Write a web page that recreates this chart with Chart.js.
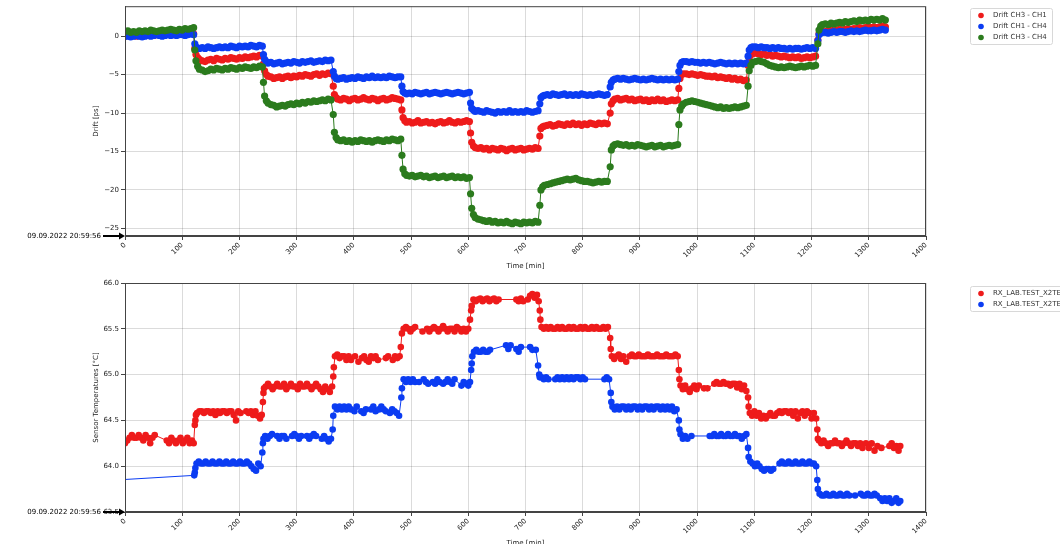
<!DOCTYPE html>
<html>
<head>
<meta charset="utf-8">
<script src="https://cdn.jsdelivr.net/npm/chart.js@4/dist/chart.umd.min.js"></script>
<style>
html, body { margin: 0; padding: 0; background: #fff; overflow: hidden; }
#wrap { position: relative; width: 1060px; height: 544px; overflow: hidden; }
canvas { position: absolute; left: 0; }
#driftChart { top: 0; }
#tempChart { top: 272px; }
</style>
</head>
<body>
<div id="wrap">
<canvas id="driftChart" width="1060" height="272"></canvas>
<canvas id="tempChart" width="1060" height="277"></canvas>
</div>
<script>
// start of the measurement, shown at the origin of both plots
const startStamp = '09.09.2022 20:59:56';

const xTicks = [0, 100, 200, 300, 400, 500, 600, 700, 800, 900, 1000, 1100, 1200, 1300, 1400];
const driftTicks = [-25, -20, -15, -10, -5, 0];
const tempTicks = [63.5, 64.0, 64.5, 65.0, 65.5, 66.0];

const driftLabels = ['Drift CH3 - CH1', 'Drift CH1 - CH4', 'Drift CH3 - CH4'];
const tempLabels = ['RX_LAB.TEST_X2TEMP_1', 'RX_LAB.TEST_X2TEMP_2'];

// time [min] for the drift measurements
const driftTime = [
    0, 5, 10, 15, 20, 25, 30, 35, 40, 45, 50, 55, 60, 65, 70, 75, 80, 85, 90, 95, 100, 105, 110, 115, 120,
    122, 124, 127, 130, 135, 140, 145, 150, 155, 160, 165, 170, 175, 180, 185, 190, 195, 200, 205, 210, 215, 220, 225, 230, 235, 240,
    242, 244, 247, 250, 255, 260, 265, 270, 275, 280, 285, 290, 295, 300, 305, 310, 315, 320, 325, 330, 335, 340, 345, 350, 355, 360,
    364, 366, 369, 372, 377, 382, 387, 392, 397, 402, 407, 412, 417, 422, 427, 432, 437, 442, 447, 452, 457, 462, 467, 472, 477, 482,
    484, 486, 489, 492, 497, 502, 507, 512, 517, 522, 527, 532, 537, 542, 547, 552, 557, 562, 567, 572, 577, 582, 587, 592, 597, 602,
    604, 606, 609, 612, 617, 622, 627, 632, 637, 642, 647, 652, 657, 662, 667, 672, 677, 682, 687, 692, 697, 702, 707, 712, 717, 722,
    725, 727, 730, 733, 738, 743, 748, 753, 758, 763, 768, 773, 778, 783, 788, 793, 798, 803, 808, 813, 818, 823, 828, 833, 838, 843,
    848, 850, 853, 856, 861, 866, 871, 876, 881, 886, 891, 896, 901, 906, 911, 916, 921, 926, 931, 936, 941, 946, 951, 956, 961, 966,
    968, 970, 973, 976, 981, 986, 991, 996, 1001, 1006, 1011, 1016, 1021, 1026, 1031, 1036, 1041, 1046, 1051, 1056, 1061, 1066, 1071, 1076, 1081, 1086,
    1089, 1091, 1094, 1097, 1102, 1107, 1112, 1117, 1122, 1127, 1132, 1137, 1142, 1147, 1152, 1157, 1162, 1167, 1172, 1177, 1182, 1187, 1192, 1197, 1202, 1207,
    1211, 1213, 1216, 1219, 1224, 1229, 1234, 1239, 1244, 1249, 1254, 1259, 1264, 1269, 1274, 1279, 1284, 1289, 1294, 1299, 1304, 1309, 1314, 1319, 1324, 1329
];

// drift [ps]
const driftCh3Ch1 = [
    0.0, 0.1, 0.2, 0.1, 0.0, 0.2, 0.1, 0.2, 0.3, 0.2, 0.1, 0.2, 0.3, 0.2, 0.3, 0.4, 0.3, 0.2, 0.3, 0.4, 0.3, 0.4, 0.5, 0.4, 0.3,
    -1.6, -2.4, -2.8, -3.0, -3.2, -3.3, -3.1, -3.0, -3.2, -2.9, -3.0, -3.1, -2.9, -3.0, -2.8, -2.9, -3.0, -2.8, -2.9, -2.7, -2.8, -2.7, -2.6, -2.7, -2.5, -2.6,
    -3.6, -4.5, -5.0, -5.2, -5.3, -5.5, -5.4, -5.3, -5.5, -5.3, -5.2, -5.4, -5.2, -5.3, -5.1, -5.2, -5.0, -5.1, -5.2, -5.0, -4.9, -5.1, -4.9, -5.0, -4.8, -4.9,
    -6.5, -7.6, -8.0, -8.2, -8.3, -8.1, -8.2, -8.4, -8.2, -8.1, -8.3, -8.2, -8.0, -8.2, -8.3, -8.1, -8.2, -8.4, -8.2, -8.1, -8.3, -8.2, -8.0, -8.1, -8.2, -8.3,
    -9.6, -10.6, -11.0, -11.2, -11.1, -11.3, -11.2, -11.0, -11.3, -11.2, -11.1, -11.3, -11.2, -11.4, -11.2, -11.1, -11.3, -11.2, -11.0, -11.2, -11.3, -11.1, -11.2, -11.1, -11.0, -11.1,
    -12.6, -13.8, -14.3, -14.5, -14.6, -14.5, -14.7, -14.6, -14.8, -14.6, -14.7, -14.8, -14.6, -14.7, -14.9, -14.7, -14.6, -14.8, -14.7, -14.6, -14.8, -14.7, -14.6, -14.7, -14.5, -14.6,
    -13.0, -12.0, -11.8, -11.7, -11.6, -11.5, -11.7, -11.6, -11.4, -11.5, -11.6, -11.4, -11.5, -11.3, -11.5, -11.4, -11.6, -11.4, -11.5, -11.3, -11.4, -11.5, -11.3, -11.4, -11.3, -11.4,
    -10.0, -8.8, -8.4, -8.2, -8.1, -8.3, -8.2, -8.1, -8.3, -8.2, -8.4, -8.3, -8.2, -8.4, -8.3, -8.5, -8.3, -8.4, -8.2, -8.4, -8.3, -8.5, -8.4, -8.3, -8.4, -8.3,
    -6.8, -5.5, -5.0, -4.9, -4.9, -5.0, -4.9, -5.0, -5.1, -5.0, -5.1, -5.2, -5.2, -5.3, -5.2, -5.4, -5.3, -5.4, -5.5, -5.4, -5.6, -5.5, -5.7, -5.6, -5.8, -5.7,
    -3.8, -2.8, -2.4, -2.3, -2.2, -2.3, -2.4, -2.3, -2.5, -2.4, -2.6, -2.5, -2.6, -2.7, -2.6, -2.7, -2.8, -2.7, -2.8, -2.7, -2.9, -2.8, -2.7, -2.8, -2.7, -2.6,
    -0.5, 0.3, 0.5, 0.6, 0.6, 0.7, 0.8, 0.7, 0.8, 0.9, 0.8, 0.9, 1.0, 0.9, 1.0, 1.0, 1.1, 1.0, 1.1, 1.2, 1.1, 1.2, 1.1, 1.2, 1.3, 1.2
];
const driftCh1Ch4 = [
    0.0, 0.0, -0.1, 0.0, 0.1, 0.0, -0.1, 0.0, 0.1, 0.0, 0.1, 0.2, 0.1, 0.0, 0.1, 0.2, 0.1, 0.2, 0.1, 0.2, 0.2, 0.1, 0.2, 0.3, 0.2,
    -1.0, -1.4, -1.6, -1.6, -1.5, -1.6, -1.4, -1.5, -1.6, -1.5, -1.4, -1.5, -1.4, -1.5, -1.3, -1.4, -1.5, -1.3, -1.4, -1.3, -1.4, -1.2, -1.3, -1.4, -1.2, -1.3,
    -2.4, -3.0, -3.3, -3.5, -3.4, -3.6, -3.5, -3.4, -3.6, -3.5, -3.4, -3.5, -3.3, -3.4, -3.5, -3.3, -3.4, -3.3, -3.2, -3.4, -3.3, -3.2, -3.3, -3.1, -3.2, -3.1,
    -4.6, -5.2, -5.5, -5.6, -5.5, -5.4, -5.6, -5.5, -5.4, -5.5, -5.3, -5.4, -5.5, -5.3, -5.4, -5.2, -5.4, -5.3, -5.4, -5.3, -5.4, -5.2, -5.3, -5.4, -5.3, -5.3,
    -6.5, -7.2, -7.4, -7.5, -7.4, -7.5, -7.3, -7.4, -7.5, -7.4, -7.3, -7.5, -7.4, -7.3, -7.4, -7.5, -7.4, -7.3, -7.4, -7.5, -7.4, -7.3, -7.4, -7.5, -7.4, -7.3,
    -8.7, -9.4, -9.6, -9.8, -9.7, -9.8, -9.9, -9.7, -9.8, -9.9, -10.0, -9.8, -9.9, -9.8, -9.9, -9.7, -9.9, -9.8, -9.9, -9.8, -9.9, -9.7, -9.8, -9.9, -9.8, -9.7,
    -8.8, -8.0, -7.8, -7.7, -7.6, -7.7, -7.5, -7.6, -7.7, -7.6, -7.5, -7.7, -7.6, -7.7, -7.6, -7.7, -7.5, -7.6, -7.7, -7.6, -7.7, -7.6, -7.5, -7.6, -7.7, -7.6,
    -6.6, -6.0, -5.7, -5.6, -5.5, -5.6, -5.5, -5.6, -5.7, -5.6, -5.5, -5.6, -5.7, -5.6, -5.7, -5.6, -5.5, -5.6, -5.7, -5.6, -5.7, -5.6, -5.7, -5.6, -5.7, -5.6,
    -4.6, -3.8, -3.4, -3.3, -3.3, -3.4, -3.3, -3.4, -3.4, -3.5, -3.4, -3.5, -3.4, -3.5, -3.6, -3.5, -3.4, -3.5, -3.6, -3.5, -3.6, -3.5, -3.6, -3.5, -3.6, -3.5,
    -2.6, -1.8, -1.5, -1.4, -1.4, -1.5, -1.4, -1.5, -1.5, -1.6, -1.5, -1.6, -1.5, -1.6, -1.6, -1.7, -1.6, -1.7, -1.6, -1.6, -1.7, -1.6, -1.5, -1.6, -1.5, -1.6,
    -0.6, 0.2, 0.4, 0.5, 0.5, 0.4, 0.5, 0.6, 0.5, 0.6, 0.6, 0.5, 0.6, 0.7, 0.6, 0.7, 0.6, 0.7, 0.8, 0.7, 0.7, 0.8, 0.7, 0.8, 0.9, 0.8
];
const driftCh3Ch4 = [
    0.6, 0.7, 0.5, 0.6, 0.5, 0.7, 0.6, 0.7, 0.6, 0.8, 0.7, 0.6, 0.7, 0.8, 0.7, 0.8, 0.9, 0.8, 0.7, 0.9, 0.8, 1.0, 0.9, 1.0, 1.1,
    -1.8, -3.2, -3.9, -4.3, -4.4, -4.6, -4.5, -4.3, -4.4, -4.2, -4.3, -4.4, -4.2, -4.3, -4.1, -4.2, -4.3, -4.1, -4.2, -4.0, -4.1, -4.2, -4.0, -4.1, -3.9, -4.0,
    -6.0, -7.8, -8.4, -8.7, -8.9, -9.0, -9.2, -9.1, -9.0, -9.1, -8.9, -8.8, -8.9, -8.7, -8.8, -8.6, -8.7, -8.5, -8.6, -8.4, -8.5, -8.4, -8.3, -8.4, -8.2, -8.3,
    -10.2, -12.5, -13.2, -13.5, -13.6, -13.5, -13.7, -13.6, -13.8, -13.6, -13.7, -13.5, -13.6, -13.7, -13.6, -13.8, -13.6, -13.5, -13.6, -13.7, -13.5, -13.6, -13.4, -13.5, -13.6, -13.4,
    -15.5, -17.3, -17.9, -18.1, -18.2, -18.1, -18.3, -18.2, -18.1, -18.3, -18.2, -18.4, -18.3, -18.2, -18.4, -18.3, -18.2, -18.4, -18.3, -18.2, -18.4, -18.3, -18.4, -18.3, -18.5, -18.4,
    -20.5, -22.4, -23.2, -23.6, -23.8, -23.9, -24.0, -24.1, -24.0, -24.2, -24.1, -24.3, -24.2, -24.3, -24.1, -24.3, -24.4, -24.2, -24.3, -24.4, -24.2, -24.3, -24.2, -24.3, -24.1, -24.2,
    -22.0, -20.0, -19.6, -19.4, -19.3, -19.2, -19.1, -19.0, -18.9, -18.8, -18.7, -18.6, -18.7, -18.6, -18.5, -18.7, -18.8, -18.9, -18.9, -19.0, -19.1, -19.0, -18.9, -19.0, -18.9, -18.9,
    -17.0, -14.8, -14.3, -14.1, -14.0, -14.1, -14.2, -14.1, -14.3, -14.2, -14.3, -14.1, -14.2, -14.3, -14.4, -14.3, -14.2, -14.4, -14.3, -14.2, -14.4, -14.3, -14.2, -14.3, -14.2, -14.1,
    -11.5, -9.6, -9.1, -8.8, -8.6, -8.5, -8.4, -8.5, -8.6, -8.7, -8.8, -8.9, -9.0, -9.1, -9.2, -9.3, -9.2, -9.4, -9.3, -9.4, -9.3, -9.2, -9.3, -9.2, -9.1, -9.0,
    -6.5, -4.5, -3.8, -3.4, -3.3, -3.2, -3.3, -3.4, -3.6, -3.8, -3.9, -4.0, -4.1, -4.0, -4.1, -4.0, -3.9, -4.0, -4.1, -4.0, -3.9, -4.0, -3.9, -3.8, -3.9, -3.8,
    -1.0, 0.8, 1.3, 1.5, 1.6, 1.5, 1.7, 1.6, 1.7, 1.8, 1.7, 1.9, 1.8, 1.9, 2.0, 1.9, 2.1, 2.0, 2.1, 2.0, 2.2, 2.1, 2.2, 2.1, 2.3, 2.1
];

// sensor 1: time [min] and temperature [°C]
const tempTime1 = [
    0, 4, 8, 12, 16, 20, 24, 28, 32, 36, 40, 44, 48, 52,
    73, 77, 81, 85, 89, 93, 97, 101, 105, 109, 113, 117, 120,
    122, 123, 124,
    126, 130, 134, 138, 142, 146, 150, 154, 158, 162, 166, 170, 174, 178, 182, 186, 190, 194, 198, 202, 212, 216, 220, 224, 228, 232, 236, 239,
    241, 242, 243,
    246, 250, 254, 258, 262, 266, 270, 274, 278, 282, 286, 290, 294, 298, 302, 306, 310, 314, 318, 322, 326, 330, 334, 338, 342, 346, 350, 354, 358, 362,
    364, 365,
    367, 371, 375, 379, 383, 387, 391, 395, 402, 408, 414, 418, 422, 426, 430, 434, 438, 442, 456, 460, 468, 472, 476, 480,
    482, 484,
    487, 491, 495, 499, 503, 507, 520, 528, 532, 536, 540, 544, 548, 552, 556, 560, 564, 568, 572, 576, 580, 584, 588, 592, 596, 600,
    603, 605, 606,
    609, 613, 617, 621, 625, 629, 633, 637, 641, 645, 649, 653, 684, 688, 692, 696, 704, 708, 712, 716, 720, 723,
    725, 726,
    728, 732, 736, 740, 744, 748, 752, 756, 760, 764, 768, 772, 776, 780, 784, 788, 792, 796, 800, 804, 808, 812, 816, 820, 824, 828, 832, 836, 840, 844,
    848, 849,
    851, 855, 859, 863, 867, 871, 876, 882, 886, 890, 894, 898, 902, 906, 910, 914, 918, 922, 926, 930, 934, 938, 942, 946, 950, 954, 958, 962, 966,
    968, 969,
    971, 975, 979, 983, 987, 991, 995, 999, 1003, 1012, 1018, 1030, 1034, 1038, 1042, 1046, 1050, 1054, 1058, 1062, 1066, 1070, 1074, 1078, 1082, 1086,
    1089, 1090,
    1092, 1096, 1100, 1104, 1108, 1112, 1116, 1120, 1124, 1128, 1132, 1136, 1140, 1144, 1148, 1152, 1156, 1160, 1164, 1168, 1172, 1176, 1180, 1184, 1188, 1192, 1196, 1200, 1204, 1208,
    1210, 1211,
    1213, 1217, 1221, 1225, 1229, 1233, 1237, 1241, 1245, 1249, 1253, 1257, 1261, 1265, 1269, 1273, 1277, 1281, 1285, 1289, 1295, 1300, 1305, 1310, 1315, 1322, 1336, 1340, 1344, 1348, 1352, 1355
];
const temp1 = [
    64.25, 64.28, 64.31, 64.34, 64.31, 64.31, 64.34, 64.31, 64.28, 64.34, 64.31, 64.25, 64.31, 64.34,
    64.28, 64.25, 64.31, 64.28, 64.25, 64.28, 64.31, 64.25, 64.28, 64.31, 64.25, 64.28, 64.25,
    64.45, 64.5, 64.56,
    64.58, 64.6, 64.6, 64.58, 64.6, 64.6, 64.58, 64.6, 64.56, 64.6, 64.58, 64.6, 64.6, 64.58, 64.6, 64.6, 64.56, 64.5, 64.6, 64.58, 64.6, 64.58, 64.6, 64.56, 64.6, 64.55, 64.52, 64.56,
    64.7, 64.8, 64.85,
    64.87, 64.9, 64.87, 64.84, 64.87, 64.9, 64.87, 64.87, 64.9, 64.84, 64.87, 64.9, 64.87, 64.87, 64.84, 64.9, 64.87, 64.87, 64.9, 64.87, 64.84, 64.87, 64.9, 64.87, 64.84, 64.81, 64.87, 64.84, 64.81, 64.87,
    64.98, 65.08,
    65.2, 65.22, 65.18, 65.2, 65.2, 65.16, 65.2, 65.16, 65.2, 65.14, 65.18, 65.2, 65.16, 65.14, 65.2, 65.18, 65.2, 65.16, 65.18, 65.2, 65.16, 65.2, 65.18, 65.2,
    65.3, 65.45,
    65.5, 65.52, 65.5, 65.47, 65.5, 65.52, 65.47, 65.5, 65.47, 65.5, 65.52, 65.5, 65.47, 65.5, 65.53, 65.5, 65.47, 65.5, 65.5, 65.47, 65.52, 65.5, 65.47, 65.5, 65.47, 65.5,
    65.6, 65.7, 65.75,
    65.82, 65.8, 65.82, 65.83, 65.8, 65.82, 65.83, 65.8, 65.82, 65.83, 65.8, 65.82, 65.82, 65.8, 65.83, 65.8, 65.82, 65.86, 65.88, 65.84, 65.87, 65.8,
    65.7, 65.6,
    65.52, 65.5, 65.52, 65.5, 65.52, 65.5, 65.5, 65.52, 65.5, 65.52, 65.5, 65.5, 65.52, 65.5, 65.52, 65.5, 65.5, 65.52, 65.5, 65.52, 65.5, 65.5, 65.52, 65.5, 65.52, 65.5, 65.5, 65.52, 65.5, 65.52,
    65.4, 65.28,
    65.2, 65.17, 65.2, 65.22, 65.17, 65.2, 65.14, 65.2, 65.22, 65.2, 65.2, 65.22, 65.2, 65.2, 65.2, 65.22, 65.2, 65.2, 65.2, 65.22, 65.2, 65.2, 65.2, 65.22, 65.2, 65.2, 65.2, 65.22, 65.2,
    65.05, 64.95,
    64.88, 64.84, 64.88, 64.84, 64.81, 64.85, 64.88, 64.84, 64.88, 64.85, 64.85, 64.9, 64.92, 64.9, 64.9, 64.92, 64.9, 64.9, 64.88, 64.9, 64.9, 64.86, 64.9, 64.84, 64.88, 64.82,
    64.75, 64.65,
    64.58, 64.55, 64.6, 64.55, 64.58, 64.52, 64.55, 64.52, 64.55, 64.58, 64.55, 64.55, 64.58, 64.6, 64.58, 64.6, 64.6, 64.58, 64.6, 64.55, 64.6, 64.52, 64.58, 64.6, 64.55, 64.6, 64.58, 64.52, 64.58, 64.52,
    64.4, 64.3,
    64.28, 64.25, 64.28, 64.25, 64.22, 64.25, 64.25, 64.28, 64.25, 64.25, 64.22, 64.25, 64.28, 64.25, 64.22, 64.25, 64.25, 64.22, 64.25, 64.2, 64.25, 64.2, 64.25, 64.17, 64.22, 64.2, 64.22, 64.25, 64.2, 64.22, 64.17, 64.22
];

// sensor 2: time [min] and temperature [°C]
const tempTime2 = [
    0, 121, 122, 123,
    125, 129, 133, 137, 141, 145, 149, 153, 157, 161, 165, 169, 173, 177, 181, 185, 189, 193, 197, 201, 205, 209, 213, 217, 221, 225, 229, 233, 237,
    240, 241, 242,
    245, 249, 253, 257, 266, 270, 274, 278, 282, 292, 296, 300, 304, 308, 318, 322, 326, 330, 334, 344, 348, 352, 356, 360,
    363, 364,
    367, 371, 375, 379, 383, 387, 391, 395, 401, 405, 413, 417, 421, 430, 434, 438, 444, 448, 452, 456, 463, 467, 471, 475, 479,
    483, 484,
    487, 491, 495, 499, 503, 507, 514, 522, 526, 530, 538, 542, 546, 550, 556, 560, 564, 568, 572, 576, 588, 592, 596, 600, 603,
    605, 606, 607,
    610, 614, 618, 622, 626, 630, 634, 638, 666, 670, 674, 684, 688, 692, 708, 712, 718,
    722, 724, 725,
    728, 732, 736, 740, 752, 756, 760, 764, 768, 772, 776, 780, 784, 788, 792, 796, 800, 804, 838, 842, 846,
    849, 850,
    852, 856, 860, 864, 868, 872, 876, 880, 884, 888, 892, 896, 900, 904, 908, 912, 916, 920, 924, 928, 932, 936, 940, 944, 948, 952, 956, 960, 964,
    968, 969,
    971, 975, 979, 983, 990, 1022, 1026, 1030, 1034, 1038, 1042, 1046, 1050, 1054, 1058, 1062, 1066, 1070, 1074, 1078, 1082, 1086,
    1089, 1090,
    1093, 1097, 1101, 1105, 1109, 1113, 1117, 1121, 1125, 1129, 1133, 1144, 1148, 1152, 1156, 1160, 1164, 1168, 1172, 1176, 1180, 1184, 1188, 1192, 1196, 1200, 1204, 1208,
    1210, 1211,
    1214, 1218, 1222, 1226, 1230, 1234, 1238, 1242, 1246, 1250, 1254, 1258, 1262, 1266, 1276, 1286, 1290, 1294, 1298, 1302, 1306, 1310, 1314, 1320, 1324, 1328, 1332, 1336, 1340, 1344, 1348, 1352, 1355
];
const temp2 = [
    63.855, 63.9, 63.93, 63.98,
    64.03, 64.05, 64.03, 64.03, 64.05, 64.03, 64.03, 64.05, 64.03, 64.03, 64.05, 64.03, 64.03, 64.05, 64.03, 64.03, 64.05, 64.03, 64.03, 64.05, 64.03, 64.03, 64.05, 64.03, 64.0, 63.97, 63.95, 64.03, 64.0,
    64.15, 64.25, 64.3,
    64.33, 64.3, 64.33, 64.35, 64.33, 64.3, 64.33, 64.33, 64.3, 64.33, 64.35, 64.33, 64.3, 64.33, 64.33, 64.3, 64.33, 64.35, 64.33, 64.3, 64.33, 64.3, 64.27, 64.3,
    64.4, 64.55,
    64.65, 64.62, 64.65, 64.62, 64.65, 64.62, 64.65, 64.62, 64.6, 64.65, 64.6, 64.58, 64.62, 64.62, 64.65, 64.6, 64.62, 64.65, 64.62, 64.6, 64.58, 64.62, 64.6, 64.58, 64.55,
    64.75, 64.85,
    64.95, 64.92, 64.95, 64.92, 64.95, 64.92, 64.92, 64.95, 64.92, 64.9, 64.92, 64.9, 64.95, 64.92, 64.9, 64.92, 64.95, 64.92, 64.9, 64.95, 64.88, 64.92, 64.9, 64.88, 64.92,
    65.05, 65.12, 65.2,
    65.25, 65.27, 65.25, 65.25, 65.27, 65.25, 65.25, 65.27, 65.32, 65.28, 65.32, 65.28, 65.25, 65.3, 65.3, 65.27, 65.27,
    65.1, 65.0, 64.97,
    64.97, 64.95, 64.97, 64.95, 64.95, 64.97, 64.95, 64.97, 64.95, 64.97, 64.95, 64.97, 64.95, 64.97, 64.97, 64.95, 64.97, 64.95, 64.95, 64.97, 64.95,
    64.8, 64.7,
    64.65, 64.62, 64.65, 64.62, 64.65, 64.65, 64.62, 64.65, 64.62, 64.65, 64.65, 64.62, 64.65, 64.62, 64.65, 64.65, 64.62, 64.65, 64.62, 64.65, 64.65, 64.62, 64.65, 64.62, 64.65, 64.62, 64.65, 64.6, 64.62,
    64.5, 64.4,
    64.35, 64.3, 64.33, 64.3, 64.33, 64.33, 64.33, 64.35, 64.33, 64.33, 64.35, 64.33, 64.33, 64.35, 64.33, 64.33, 64.35, 64.33, 64.33, 64.3, 64.33, 64.35,
    64.2, 64.1,
    64.05, 64.03, 64.0, 64.03, 64.0, 63.97, 63.95, 63.97, 63.97, 63.95, 63.97, 64.03, 64.05, 64.03, 64.03, 64.05, 64.03, 64.03, 64.05, 64.03, 64.03, 64.05, 64.03, 64.03, 64.05, 64.03, 64.03, 64.0,
    63.85, 63.75,
    63.7, 63.68, 63.68, 63.7, 63.68, 63.68, 63.7, 63.68, 63.68, 63.7, 63.68, 63.68, 63.7, 63.68, 63.68, 63.7, 63.68, 63.68, 63.7, 63.68, 63.68, 63.7, 63.68, 63.65, 63.62, 63.65, 63.62, 63.65, 63.6, 63.62, 63.65, 63.6, 63.62
];

const RED = '#ee1b1b';
const BLUE = '#0b3cf2';
const GREEN = '#2b7b1d';
const FONT = { family: '"DejaVu Sans", sans-serif', size: 7 };

function toPoints(xs, ys) {
    return xs.map((x, i) => ({ x: x, y: ys[i] }));
}

function minus(v) {
    return String(v).replace('-', '\u2212');
}

// matplotlib style box around the plot + annotation of the start time
const framePlugin = {
    id: 'frame',
    afterDraw(chart) {
        const { ctx, chartArea } = chart;
        const y = chartArea.bottom;
        ctx.save();
        ctx.strokeStyle = '#444';
        ctx.lineWidth = 1;
        ctx.strokeRect(chartArea.left + 0.5, chartArea.top + 0.5, chartArea.width - 1, chartArea.height - 1);

        ctx.font = '7px "DejaVu Sans"';
        ctx.fillStyle = '#000';
        ctx.textAlign = 'right';
        ctx.textBaseline = 'middle';
        ctx.fillText(startStamp, 101, y);
        ctx.strokeStyle = '#000';
        ctx.lineWidth = 2;
        ctx.beginPath();
        ctx.moveTo(103, y);
        ctx.lineTo(chartArea.left - 4, y);
        ctx.stroke();
        ctx.beginPath();
        ctx.moveTo(chartArea.left, y);
        ctx.lineTo(chartArea.left - 6, y - 3.5);
        ctx.lineTo(chartArea.left - 6, y + 3.5);
        ctx.closePath();
        ctx.fill();
        ctx.restore();
    }
};

// legend box placed right of the plot
const boxLegend = {
    id: 'boxLegend',
    afterDraw(chart, args, opts) {
        const { ctx } = chart;
        const sets = chart.data.datasets;
        const rowH = 11;
        const h = sets.length * rowH + 3;
        ctx.save();
        ctx.fillStyle = 'rgba(255,255,255,0.8)';
        ctx.strokeStyle = '#d8d8d8';
        ctx.lineWidth = 1;
        ctx.beginPath();
        ctx.roundRect(opts.x + 0.5, opts.y + 0.5, opts.width, h, 2);
        ctx.fill();
        ctx.stroke();
        ctx.font = '7px "DejaVu Sans"';
        ctx.textBaseline = 'middle';
        ctx.textAlign = 'left';
        sets.forEach((ds, i) => {
            const cy = opts.y + 7.5 + i * rowH;
            ctx.fillStyle = ds.borderColor;
            ctx.beginPath();
            ctx.arc(opts.x + 11, cy, 2.8, 0, Math.PI * 2);
            ctx.fill();
            ctx.fillStyle = '#333';
            ctx.fillText(ds.label, opts.x + 23, cy);
        });
        ctx.restore();
    }
};

function series(label, xs, ys, color, order, radius) {
    return {
        label: label,
        data: toPoints(xs, ys),
        showLine: true,
        borderColor: color,
        backgroundColor: color,
        borderWidth: 1,
        pointRadius: radius,
        pointBorderWidth: 0,
        pointBackgroundColor: color,
        order: order
    };
}

function xScale(h) {
    return {
        type: 'linear',
        min: 0,
        max: 1400,
        afterBuildTicks: (s) => { s.ticks = xTicks.map(v => ({ value: v })); },
        afterFit: (s) => { s.height = h; },
        ticks: { font: FONT, color: '#222', minRotation: 45, maxRotation: 45, padding: 1, callback: v => String(v) },
        grid: { color: 'rgba(0,0,0,0.14)', tickColor: '#444', tickLength: 4 },
        border: { color: '#444' },
        title: { display: true, text: 'Time [min]', font: FONT, color: '#222', padding: { top: 2, bottom: 2 } }
    };
}

function yScale(min, max, ticks, title, fmt) {
    return {
        min: min,
        max: max,
        afterBuildTicks: (s) => { s.ticks = ticks.map(v => ({ value: v })); },
        afterFit: (s) => { s.width = 35; },
        ticks: { font: FONT, color: '#222', padding: 2, callback: fmt },
        grid: { color: 'rgba(0,0,0,0.14)', tickColor: '#444', tickLength: 4 },
        border: { color: '#444' },
        title: { display: true, text: title, font: FONT, color: '#222', padding: { top: 2, bottom: 2 } }
    };
}

new Chart(document.getElementById('driftChart'), {
    type: 'scatter',
    data: {
        datasets: [
            series(driftLabels[0], driftTime, driftCh3Ch1, RED, 3, 3.6),
            series(driftLabels[1], driftTime, driftCh1Ch4, BLUE, 2, 3.6),
            series(driftLabels[2], driftTime, driftCh3Ch4, GREEN, 1, 3.6)
        ]
    },
    options: {
        responsive: false,
        animation: false,
        devicePixelRatio: 1,
        layout: { padding: { left: 90, right: 134, top: 5, bottom: 0 } },
        plugins: {
            legend: { display: false },
            tooltip: { enabled: false },
            boxLegend: { x: 970, y: 8, width: 82 }
        },
        scales: {
            x: xScale(36),
            y: yScale(-26, 3.9, driftTicks, 'Drift [ps]', v => minus(v))
        }
    },
    plugins: [framePlugin, boxLegend]
});

const tempSets = [
    series(tempLabels[0], tempTime1, temp1, RED, 2, 3.3),
    series(tempLabels[1], tempTime2, temp2, BLUE, 1, 3.3)
];
// first logged value of sensor 2 carries no marker
tempSets[1].pointRadius = (c) => (c.dataIndex === 0 ? 0 : 3.3);

new Chart(document.getElementById('tempChart'), {
    type: 'scatter',
    data: { datasets: tempSets },
    options: {
        responsive: false,
        animation: false,
        devicePixelRatio: 1,
        layout: { padding: { left: 90, right: 134, top: 11, bottom: 0 } },
        plugins: {
            legend: { display: false },
            tooltip: { enabled: false },
            boxLegend: { x: 970, y: 14, width: 110 }
        },
        scales: {
            x: xScale(37),
            y: yScale(63.5, 66.0, tempTicks, 'Sensor Temperatures [°C]', v => v.toFixed(1))
        }
    },
    plugins: [framePlugin, boxLegend]
});
</script>
</body>
</html>
